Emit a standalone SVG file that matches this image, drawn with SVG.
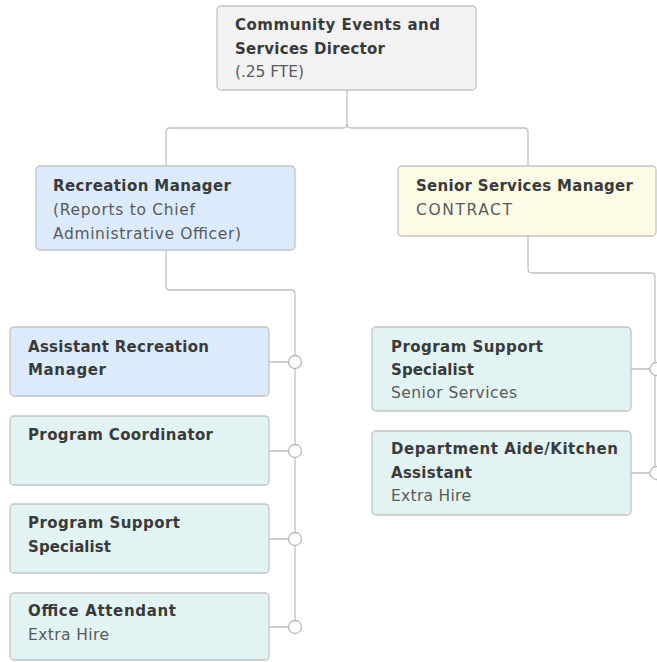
<svg xmlns="http://www.w3.org/2000/svg" width="657" height="662" viewBox="0 0 657 662">
  <style>
    .box { stroke: #c4c4c4; stroke-width: 1.3; }
    .grey { fill: #f2f2f2; }
    .blue { fill: #dcebfc; }
    .cream { fill: #fdfbe6; }
    .teal { fill: #e2f3f3; }
    .link { fill: none; stroke: #c0c0c0; stroke-width: 1.3; }
    .dot { fill: #ffffff; stroke: #b8b8b8; stroke-width: 1.3; }
    text { font-family: "DejaVu Sans", "Liberation Sans", sans-serif; }
    .t { font-weight: bold; fill: #3a3a3a; font-size: 15px; }
    .s { fill: #5a5a5a; font-size: 15.5px; }
  </style>

  <!-- connectors -->
  <g id="connectors">
    <path class="link" d="M347 90 V124 Q347 128 343 128 H170 Q166 128 166 132 V166"/>
    <path class="link" d="M347 124 Q347 128 351 128 H524 Q528 128 528 132 V166"/>
    <path class="link" d="M166 250 V286 Q166 290 170 290 H291 Q295 290 295 294 V621"/>
    <path class="link" d="M528 236 V269 Q528 273 532 273 H651 Q655 273 655 277 V467"/>
    <path class="link" d="M269 362 H289 M269 451 H289 M269 539 H289 M269 627 H289"/>
    <path class="link" d="M631 369 H650 M631 473 H650"/>
    <circle class="dot" cx="295" cy="362" r="6.5"/>
    <circle class="dot" cx="295" cy="451" r="6.5"/>
    <circle class="dot" cx="295" cy="539" r="6.5"/>
    <circle class="dot" cx="295" cy="627" r="6.5"/>
    <circle class="dot" cx="656.5" cy="369" r="6.5"/>
    <circle class="dot" cx="656.5" cy="473" r="6.5"/>
  </g>

  <g id="director">
    <rect class="box grey" x="217" y="6" width="259" height="84" rx="4"/>
    <text class="t" x="235" y="30" textLength="205">Community Events and</text>
    <text class="t" x="235" y="54" textLength="150">Services Director</text>
    <text class="s" x="235" y="77" textLength="69">(.25 FTE)</text>
  </g>

  <g id="recreation-manager">
    <rect class="box blue" x="36" y="166" width="259" height="84" rx="4"/>
    <text class="t" x="53" y="191" textLength="178">Recreation Manager</text>
    <text class="s" x="53" y="215" textLength="142">(Reports to Chief</text>
    <text class="s" x="53" y="239" textLength="188">Administrative Officer)</text>
  </g>

  <g id="senior-services-manager">
    <rect class="box cream" x="398" y="166" width="258" height="70" rx="4"/>
    <text class="t" x="416" y="191" textLength="217">Senior Services Manager</text>
    <text class="s" x="416" y="215" textLength="96">CONTRACT</text>
  </g>

  <g id="assistant-recreation-manager">
    <rect class="box blue" x="10" y="327" width="259" height="69" rx="4"/>
    <text class="t" x="28" y="352" textLength="181">Assistant Recreation</text>
    <text class="t" x="28" y="375" textLength="78">Manager</text>
  </g>

  <g id="program-coordinator">
    <rect class="box teal" x="10" y="416" width="259" height="69" rx="4"/>
    <text class="t" x="28" y="440" textLength="185">Program Coordinator</text>
  </g>

  <g id="program-support-specialist">
    <rect class="box teal" x="10" y="504" width="259" height="69" rx="4"/>
    <text class="t" x="28" y="528" textLength="152">Program Support</text>
    <text class="t" x="28" y="552" textLength="83">Specialist</text>
  </g>

  <g id="office-attendant">
    <rect class="box teal" x="10" y="593" width="259" height="67" rx="4"/>
    <text class="t" x="28" y="616" textLength="148">Office Attendant</text>
    <text class="s" x="28" y="640" textLength="81">Extra Hire</text>
  </g>

  <g id="program-support-specialist-senior">
    <rect class="box teal" x="372" y="327" width="259" height="84" rx="4"/>
    <text class="t" x="391" y="352" textLength="152">Program Support</text>
    <text class="t" x="391" y="375" textLength="83">Specialist</text>
    <text class="s" x="391" y="398" textLength="126">Senior Services</text>
  </g>

  <g id="department-aide">
    <rect class="box teal" x="372" y="431" width="259" height="84" rx="4"/>
    <text class="t" x="391" y="454" textLength="227">Department Aide/Kitchen</text>
    <text class="t" x="391" y="478" textLength="81">Assistant</text>
    <text class="s" x="391" y="501" textLength="80">Extra Hire</text>
  </g>
</svg>
